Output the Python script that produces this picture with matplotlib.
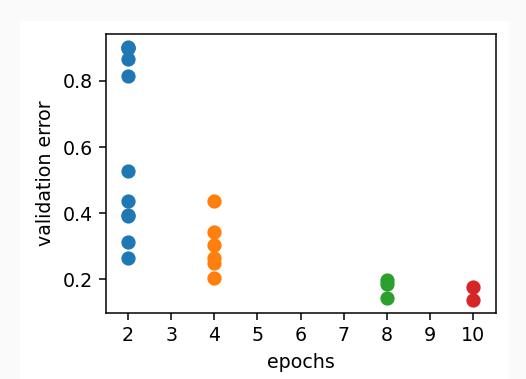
import matplotlib
matplotlib.use("Agg")
import matplotlib.pyplot as plt
from matplotlib.patches import Rectangle

# validation error per run, grouped by number of epochs
epochs_2 = [0.90, 0.90, 0.903, 0.865, 0.814, 0.528, 0.437, 0.395, 0.392, 0.314, 0.263]
epochs_4 = [0.436, 0.343, 0.303, 0.263, 0.250, 0.203]
epochs_8 = [0.197, 0.187, 0.142]
epochs_10 = [0.176, 0.137]

groups = [(2, epochs_2), (4, epochs_4), (8, epochs_8), (10, epochs_10)]
xticks = [2, 3, 4, 5, 6, 7, 8, 9, 10]

dpi = 137
fig = plt.figure(figsize=(526 / dpi, 379 / dpi), dpi=dpi, facecolor='#fafafa')
# white plot card on the grey page (kept behind the axes)
fig.patches.append(Rectangle((20 / 526, 0), 489 / 526, 358 / 379,
                             transform=fig.transFigure, facecolor='white',
                             edgecolor='none', zorder=-1))
ax = fig.add_axes([106 / 526, 1 - 313 / 379, 390 / 526, 279 / 379])

for n_epochs, errors in groups:
    ax.scatter([n_epochs] * len(errors), errors, s=42)

ax.set_xlim(1.49, 10.53)
ax.set_ylim(0.098, 0.942)
ax.set_xticks(xticks)
ax.set_yticks([0.2, 0.4, 0.6, 0.8])
ax.set_xlabel('epochs')
ax.set_ylabel('validation error')

fig.savefig('out.png', dpi=dpi, facecolor=fig.get_facecolor())
